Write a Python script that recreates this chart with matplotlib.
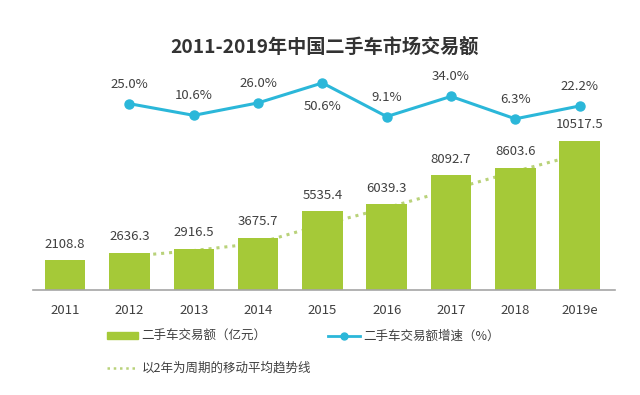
import numpy as np
import matplotlib.pyplot as plt
from matplotlib.patches import Patch
from matplotlib.lines import Line2D

plt.rcParams['font.family'] = ['Noto Sans CJK SC', 'DejaVu Sans']

# data
years = ['2011', '2012', '2013', '2014', '2015', '2016', '2017', '2018', '2019e']
volume = [2108.8, 2636.3, 2916.5, 3675.7, 5535.4, 6039.3, 8092.7, 8603.6, 10517.5]
growth = [25.0, 10.6, 26.0, 50.6, 9.1, 34.0, 6.3, 22.2]   # 2012..2019e
growth_below = [False, False, False, True, False, False, False, False]

bar_color = '#a5c938'
line_color = '#2bb7d9'
trend_color = '#b9d27a'
text_color = '#404040'

x = np.arange(len(years))
# 2-period moving average
ma = [(volume[i - 1] + volume[i]) / 2 for i in range(1, len(volume))]

fig = plt.figure(figsize=(6.4, 3.95), dpi=100)
fig.set_facecolor('white')
ax = fig.add_axes([33 / 640, 1 - 290 / 395, 582 / 640, 220 / 395])
ax2 = ax.twinx()

# moving average behind the bars
ax.plot(x[1:], ma, color=trend_color, linestyle=(0, (1, 1.6)), linewidth=2.2, zorder=1)
ax.bar(x, volume, width=0.63, color=bar_color, zorder=2)
for xi, v in zip(x, volume):
    ax.text(xi, v + 1130, f'{v:.1f}', ha='center', va='center', fontsize=9.5, color=text_color)

ax.set_xlim(-0.5, 8.55)
ax.set_ylim(0, 15490)
ax.set_xticks(x)
ax.set_xticklabels(years, fontsize=9.5, color=text_color)
ax.tick_params(axis='x', length=0, pad=10)
ax.set_yticks([])
for s in ['top', 'left', 'right']:
    ax.spines[s].set_visible(False)
ax.spines['bottom'].set_color('#a6a6a6')
ax.spines['bottom'].set_linewidth(1.2)

# growth line
ax2.plot(x[1:], growth, color=line_color, linewidth=2.2, marker='o', markersize=6.5, zorder=3)
for xi, g, below in zip(x[1:], growth, growth_below):
    if below:
        ax2.text(xi, g - 29, f'{g:.1f}%', ha='center', va='center', fontsize=9.5, color=text_color)
    else:
        ax2.text(xi, g + 24, f'{g:.1f}%', ha='center', va='center', fontsize=9.5, color=text_color)
ax2.set_ylim(-205, 66.6)
ax2.set_yticks([])
for s in ['top', 'left', 'right', 'bottom']:
    ax2.spines[s].set_visible(False)

fig.text(324 / 640, 1 - 47 / 395, '2011-2019年中国二手车市场交易额', ha='center', va='center',
         fontsize=13.8, fontweight='bold', color='#333333')

handles = [Patch(color=bar_color),
           Line2D([], [], color=trend_color, linestyle=(0, (1, 1.5)), linewidth=1.8),
           Line2D([], [], color=line_color, linewidth=2, marker='o', markersize=5)]
labels = ['二手车交易额（亿元）', '以2年为周期的移动平均趋势线', '二手车交易额增速（%）']
leg = fig.legend(handles, labels, loc='upper left', bbox_to_anchor=(102 / 640, 1 - 325 / 395),
                 ncol=2, frameon=False, fontsize=9, handlelength=2.5, handleheight=0.5,
                 handletextpad=0.25, columnspacing=1.4, labelspacing=1.5, borderaxespad=0)
for t in leg.get_texts():
    t.set_color(text_color)

fig.savefig('out.png', dpi=100)
